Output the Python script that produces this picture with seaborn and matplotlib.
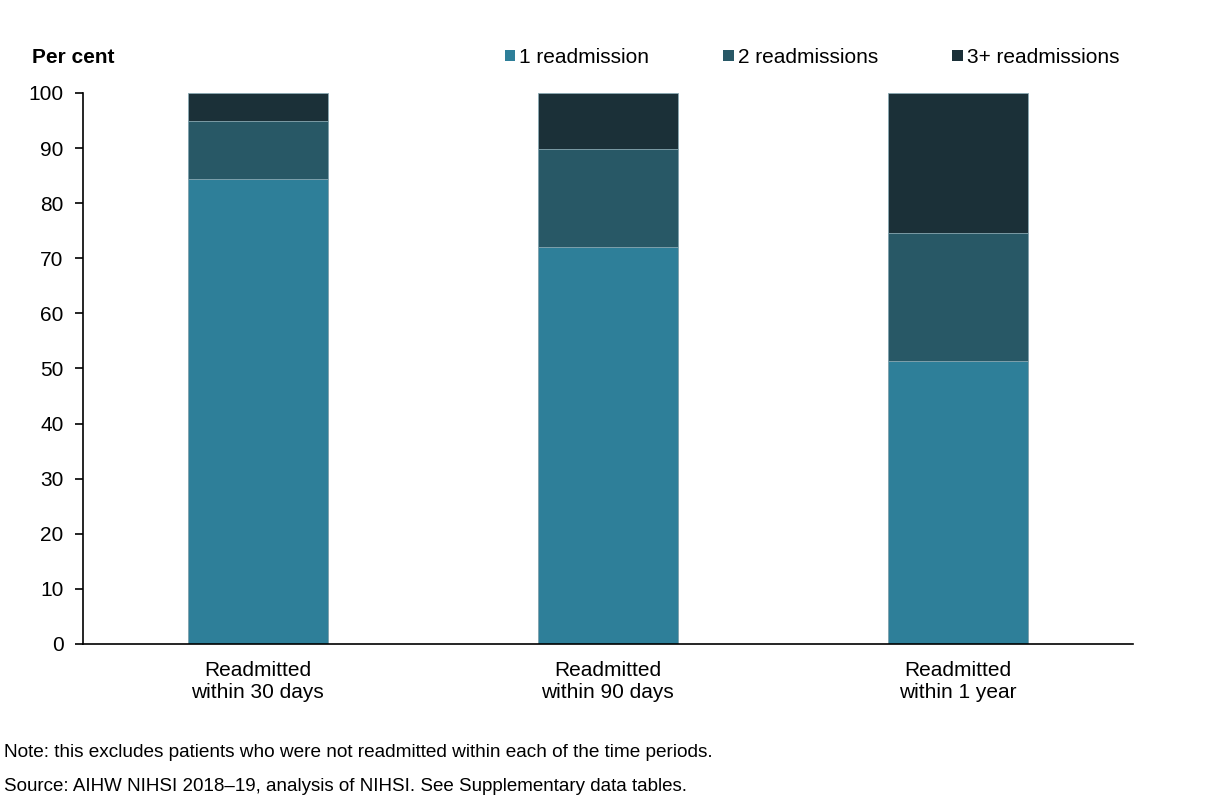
import matplotlib
matplotlib.use("Agg")
import matplotlib.pyplot as plt
from matplotlib.patches import Patch
import seaborn as sns
import pandas as pd

sns.set_style("white")
plt.rcParams["font.family"] = ["Liberation Sans", "DejaVu Sans"]
plt.rcParams["text.color"] = "black"
plt.rcParams["xtick.color"] = "black"
plt.rcParams["ytick.color"] = "black"

categories = ["Readmitted\nwithin 30 days", "Readmitted\nwithin 90 days", "Readmitted\nwithin 1 year"]
oneReadmission = [84.4, 72.0, 51.4]
twoReadmissions = [10.5, 17.8, 23.2]
threePlusReadmissions = [5.1, 10.2, 25.4]

seriesNames = ["1 readmission", "2 readmissions", "3+ readmissions"]
colors = ["#2e7f99", "#285866", "#1b3038"]

data = pd.DataFrame({
    "Category": categories,
    "one": oneReadmission,
    "two": twoReadmissions,
    "three": threePlusReadmissions,
})
# cumulative tops so the layers stack when drawn back to front
data["top1"] = data["one"]
data["top2"] = data["one"] + data["two"]
data["top3"] = data["top2"] + data["three"]

fig = plt.figure(figsize=(12.18, 7.98), dpi=100)
ax = fig.add_axes([0.068, 0.193, 0.862, 0.6905])

for col, color in zip(["top3", "top2", "top1"], colors[::-1]):
    sns.barplot(x="Category", y=col, data=data, color=color, width=0.4,
                edgecolor="#8aa9b3", linewidth=0.6, saturation=1, ax=ax)

ax.set_ylim(0, 100)
ax.set_xlim(-0.5, 2.5)
ax.set_yticks(range(0, 101, 10))
ax.set_xlabel("")
ax.set_ylabel("")
ax.tick_params(axis="y", labelsize=15, length=6, width=1.2, left=True, pad=8)
ax.tick_params(axis="x", labelsize=15, length=0, pad=12)
for lbl in ax.get_xticklabels():
    lbl.set_linespacing(1.25)

for side in ["top", "right"]:
    ax.spines[side].set_visible(False)
for side in ["left", "bottom"]:
    ax.spines[side].set_color("black")
    ax.spines[side].set_linewidth(1.2)

fig.text(0.026, 0.928, "Per cent", fontsize=15, fontweight="bold", va="center", ha="left")

handles = [Patch(facecolor=c, edgecolor="none") for c in colors]
fig.legend(handles, seriesNames, loc="center left", bbox_to_anchor=(0.4145, 0.928),
           ncol=3, frameon=False, fontsize=15, handlelength=0.5, handleheight=0.5,
           handletextpad=0.2, columnspacing=3.55, borderaxespad=0, borderpad=0)

fig.text(0.003, 0.0576, "Note: this excludes patients who were not readmitted within each of the time periods.",
         fontsize=13.7, va="center", ha="left")
fig.text(0.003, 0.015, "Source: AIHW NIHSI 2018\u201319, analysis of NIHSI. See Supplementary data tables.",
         fontsize=13.5, va="center", ha="left")

fig.savefig("out.png", dpi=100, facecolor="white")
